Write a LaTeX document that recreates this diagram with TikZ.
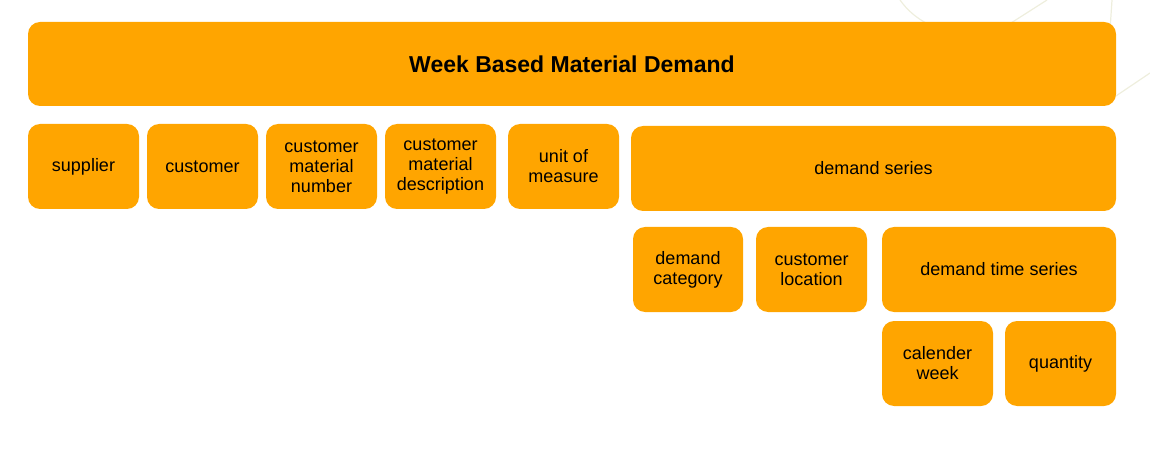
\documentclass[tikz,border=0pt]{standalone}
\usepackage{fontspec}
\setmainfont{Liberation Sans}
\usepackage{xcolor}
\usetikzlibrary{positioning}
\definecolor{boxorange}{HTML}{FFA500}
\definecolor{faintline}{HTML}{EEEEDD}

\begin{document}
\begin{tikzpicture}[
    x=1pt, y=-1pt,
    node distance=8pt and 8pt,
    field/.style={
      rectangle, rounded corners=12pt, fill=boxorange, text=black,
      align=center, font=\fontsize{18}{20}\selectfont,
      minimum width=111pt, minimum height=85pt, inner sep=2pt, outer sep=0pt
    },
    wide/.style={field, minimum width=#1},
    header/.style={
      field, minimum width=1088pt, minimum height=84pt,
      font=\fontsize{23}{26}\selectfont\bfseries
    },
    deco/.style={draw=faintline, line width=1.2pt}
  ]
  \useasboundingbox (0,0) rectangle (1150,454);

  % faint background strokes
  \draw[deco] (900,0) .. controls (910,14) and (922,22) .. (940,30);
  \draw[deco] (1000,30) -- (1047,0);
  \draw[deco] (1112,0) -- (1110,30);
  \draw[deco] (1110,100) -- (1150,73);

  \node[header, anchor=north west] (wbmd) at (28,22) {Week Based Material Demand};

  % first level
  \node[field, anchor=north west] (sup) at (28,124) {supplier};
  \node[field, right=of sup] (cust) {customer};
  \node[field, right=of cust] (cmn) {customer\\material\\number};
  \node[field, right=of cmn] (cmd) {customer\\material\\description};
  \node[field, right=12pt of cmd] (uom) {unit of\\measure};
  \node[wide=485pt, anchor=north west] (ds) at (631,126) {demand series};

  % demand series children
  \node[wide=110pt, anchor=north west] (dcat) at (633,227) {demand\\category};
  \node[field, right=13pt of dcat] (cloc) {customer\\location};
  \node[wide=234pt, anchor=north west] (dts) at (882,227) {demand time series};

  % demand time series children
  \node[field, anchor=north west] (cw) at (882,321) {calender\\week};
  \node[field, right=12pt of cw] (qty) {quantity};
\end{tikzpicture}
\end{document}
